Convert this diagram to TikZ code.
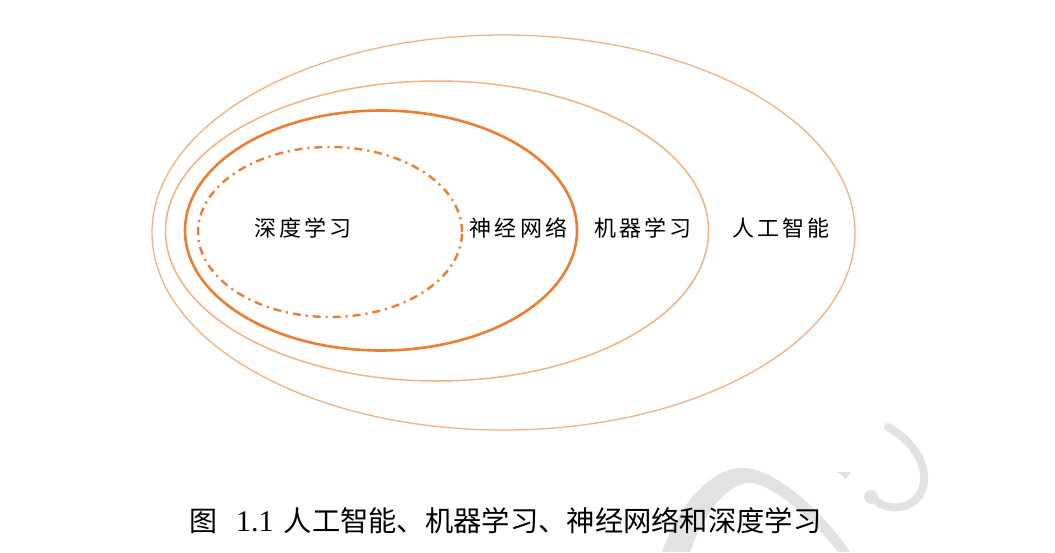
\documentclass[tikz,border=0pt]{standalone}
\usepackage{fontspec}
\usetikzlibrary{shapes.geometric}
\newfontfamily\cjk{Noto Sans CJK SC}
\newfontfamily\numfont{Liberation Serif}
\definecolor{lightorange}{HTML}{F4B183}
\definecolor{deeporange}{HTML}{ED7D31}
\definecolor{markgray}{HTML}{E2E2E2}
\begin{document}
\begin{tikzpicture}[x=1pt,y=-1pt,
  ring/.style={ellipse, draw, inner sep=0pt, outer sep=0pt},
  thinring/.style={ring, draw=lightorange, line width=1.3pt},
  boldring/.style={ring, draw=deeporange, line width=2.6pt},
  dotring/.style={ring, draw=deeporange, line width=2.4pt,
    dash pattern=on 8pt off 5pt on 2pt off 5pt},
  label/.style={font=\cjk\fontsize{22}{24}\selectfont\addfontfeature{LetterSpace=14},
    inner sep=0pt, text=black}
]
\fill[white] (0,0) rectangle (1055,552);
\useasboundingbox (0,0) rectangle (1055,552);

% faint mark in the lower right
\fill[markgray] (662,552) .. controls (680,500) and (715,466) .. (745,468)
  .. controls (780,471) and (825,515) .. (850,552) -- (838,552)
  .. controls (815,522) and (775,486) .. (752,483)
  .. controls (730,481) and (705,510) .. (690,552) -- cycle;
\draw[markgray, line width=8pt, line cap=round]
  (888,427) .. controls (915,442) and (930,468) .. (922,490)
  .. controls (915,508) and (890,514) .. (874,499);
\fill[markgray] (871,497) circle (7pt);
\fill[markgray] (837,472) -- (851,472) -- (846,479) -- cycle;

% nested sets
\node[thinring, minimum width=703pt, minimum height=395pt] (ai) at (503.5,232.5) {};
\node[thinring, line width=1.5pt, minimum width=543pt, minimum height=300pt] (ml) at (437,231) {};
\node[boldring, minimum width=392pt, minimum height=240pt] (nn) at (381,230.5) {};
\node[dotring, minimum width=264pt, minimum height=170pt] (dl) at (330,232) {};

% set names
\node[label] (dltext) at (303,228) {深度学习};
\node[label] (nntext) at (518.5,228) {神经网络};
\node[label] (mltext) at (643,228) {机器学习};
\node[label] (aitext) at (781,228) {人工智能};

% caption
\node[anchor=west, inner sep=0pt, text=black] (caption) at (189,521)
  {{\cjk\fontsize{28}{30}\selectfont 图}\hspace{19pt}{\numfont\fontsize{30}{32}\selectfont 1.1}\hspace{10pt}{\cjk\fontsize{28.3}{31}\selectfont 人工智能、机器学习、神经网络和深度学习}};
\end{tikzpicture}
\end{document}
